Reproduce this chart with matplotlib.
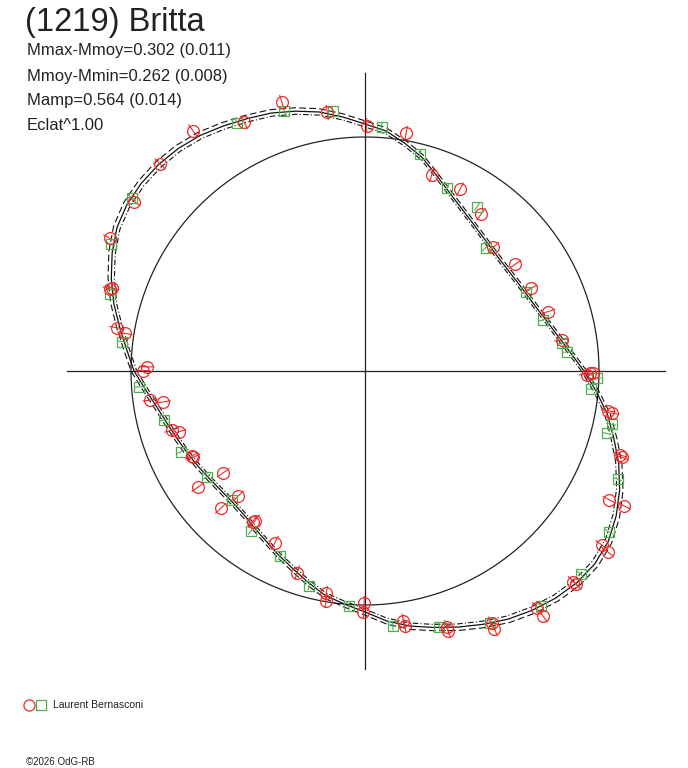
import numpy as np
import matplotlib
matplotlib.use('Agg')
import matplotlib.pyplot as plt

plt.rcParams['font.family'] = ['Liberation Sans', 'DejaVu Sans']

# courbe de lumiere ajustee (angle de phase en degres, rayon relatif ; cercle moyen = 234)
curve_angle = list(range(0, 360, 5))
curve_r = [219, 206.5, 196.5, 189, 183, 179, 176.5, 175, 175, 176.5,
           179.5, 184, 190, 198, 208.5, 221, 231, 241, 247, 255,
           263, 269, 274.5, 278.5, 283, 287.5, 290.5, 292, 292, 290.5,
           286.5, 279, 270, 260, 249, 239, 231, 220, 211, 204.5,
           199.5, 195.5, 192, 189, 187, 186.5, 188, 192, 197, 203.5,
           210.5, 219, 228, 234, 241, 251, 259, 265.5, 272.5, 279.5,
           286.5, 292, 296.5, 299.5, 300, 297, 290, 281, 270, 257.5,
           246, 232]

# mesures (angle, rayon)
red_angle = [107.2, 115.9, 125.6, 134.7, 143.7, 152.5, 161.8, 162.2, 170.1, 171.1,
             98.3, 89.6, 80.2, 71.2, 62.4, 53.5, 43.9, 35.4, 26.5, 18.0,
             9.0, 359.4, 359.4, 359.0, 350.7, 350.3, 341.8, 341.4, 332.2, 332.5,
             323.7, 323.3, 314.7, 314.7, 305.9, 306.0, 296.7, 296.6, 287.7, 287.8,
             278.7, 278.9, 269.8, 269.6, 260.1, 260.4, 251.4, 242.3, 233.7, 233.3,
             224.6, 223.6, 215.7, 214.8, 206.1, 206.7, 197.0, 198.1, 187.7, 188.7,
             178.9, 179.9]
red_r = [281.3, 276.4, 295.7, 291.3, 286.2, 287.5, 266.4, 267.9, 252.0, 242.9,
         261.4, 245.3, 241.2, 207.0, 205.0, 195.2, 178.2, 184.3, 185.2, 192.4,
         199.1, 225.0, 228.3, 221.7, 246.5, 250.3, 268.5, 270.8, 276.3, 292.1,
         293.8, 302.6, 296.3, 299.8, 292.9, 303.0, 282.3, 288.9, 269.0, 272.7,
         252.9, 258.1, 232.3, 240.7, 225.7, 233.0, 212.8, 193.9, 185.8, 187.9,
         178.0, 199.2, 174.4, 203.7, 193.0, 192.2, 202.1, 195.7, 216.9, 204.0,
         218.3, 222.3]

green_angle = [107.2, 117.2, 143.4, 153.5, 163.3, 173.1, 97.1, 86.1, 75.8, 65.9,
               55.7, 45.6, 26.2, 16.0, 8.0, 5.4, 358.3, 355.4, 347.8, 345.5,
               336.8, 326.6, 316.7, 306.8, 296.4, 286.2, 276.2, 266.1, 255.4, 245.3,
               234.5, 224.1, 213.7, 203.7, 193.7, 184.0]
green_r = [272.5, 279.2, 289.8, 284.1, 266.3, 245.1, 262.3, 244.9, 223.6, 200.4,
           198.8, 172.5, 179.5, 184.9, 199.2, 203.2, 231.8, 226.4, 252.4, 249.6,
           274.9, 292.2, 296.4, 293.0, 281.6, 266.3, 256.5, 235.5, 222.2, 203.6,
           196.5, 185.5, 190.3, 200.9, 206.6, 226.2]

R_MEAN = 234
AXIS_HALF = 298
RED_ERR = 7
GREEN_ERR = 4

title = "(1219) Britta"
info = ["Mmax-Mmoy=0.302 (0.011)", "Mmoy-Mmin=0.262 (0.008)",
        "Mamp=0.564 (0.014)", "Eclat^1.00"]
observer = "Laurent Bernasconi"
footer = "\u00a92026 OdG-RB"

W, H = 688, 768
fig = plt.figure(figsize=(W / 100, H / 100), dpi=100)
ax = fig.add_axes([0, 0, 1, 1])
cx, cy = 365, 371
ax.set_xlim(-cx, W - cx)
ax.set_ylim(cy - H, cy)
ax.axis('off')

# axes et cercle moyen
ax.plot([-AXIS_HALF, AXIS_HALF + 2], [0, 0], color='#222222', lw=0.9)
ax.plot([0, 0], [-AXIS_HALF, AXIS_HALF], color='#222222', lw=0.9)
t = np.linspace(0, 2 * np.pi, 400)
ax.plot(R_MEAN * np.cos(t), R_MEAN * np.sin(t), color='#222222', lw=0.9)


def polar(ang, r):
    a = np.radians(np.asarray(ang, dtype=float))
    r = np.asarray(r, dtype=float)
    return r * np.cos(a), r * np.sin(a)


ca = curve_angle + [curve_angle[0] + 360]
cr = np.array(curve_r + [curve_r[0]])
x, y = polar(ca, cr)
ax.plot(x, y, color='#111111', lw=0.9)
x, y = polar(ca, cr * 1.013)
ax.plot(x, y, color='#111111', lw=0.8, ls=(0, (6, 3)))
x, y = polar(ca, cr * 0.988)
ax.plot(x, y, color='#111111', lw=0.8, ls=(0, (5, 2, 1, 2)))

# barres d'erreur radiales
def err_bars(ang, r, e, color):
    for a0, r0 in zip(ang, r):
        xs, ys = polar([a0, a0], [r0 - e, r0 + e])
        ax.plot(xs, ys, color=color, lw=0.8)

red = '#ee2a2a'
green = '#4cb04c'
err_bars(green_angle, green_r, GREEN_ERR, green)
err_bars(red_angle, red_r, RED_ERR, red)
x, y = polar(green_angle, green_r)
ax.plot(x, y, 's', ms=7, mfc='none', mec=green, mew=0.9)
x, y = polar(red_angle, red_r)
ax.plot(x, y, 'o', ms=8.5, mfc='none', mec=red, mew=0.9)

# textes
fig.text(25 / W, 1 - 22 / H, title, fontsize=23.5, color='#222222', va='center')
for i, s in enumerate(info):
    fig.text(27 / W, 1 - (51 + 25 * i) / H, s, fontsize=12, color='#222222', va='center')

ax.plot([29 / W], [1 - 705 / H], 'o', ms=8, mfc='none', mec=red, mew=0.9,
        transform=fig.transFigure, clip_on=False)
ax.plot([41 / W], [1 - 705 / H], 's', ms=7, mfc='none', mec=green, mew=0.9,
        transform=fig.transFigure, clip_on=False)
fig.text(53 / W, 1 - 705 / H, observer, fontsize=7.5, color='#222222', va='center')
fig.text(26 / W, 1 - 762 / H, footer, fontsize=7, color='#222222', va='center')

fig.savefig('out.png', dpi=100)
